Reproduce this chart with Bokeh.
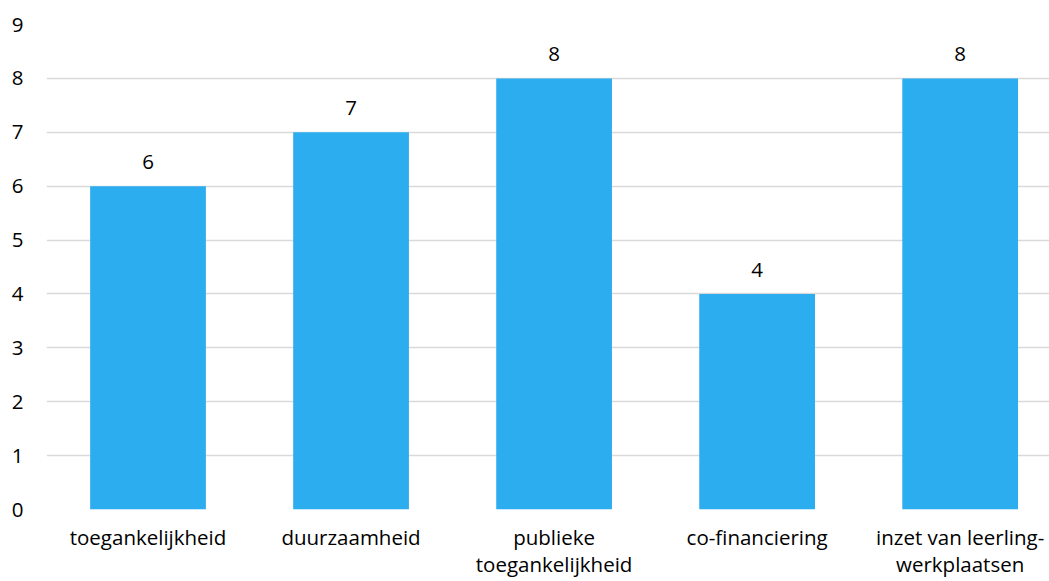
from bokeh.plotting import figure
from bokeh.models import ColumnDataSource, Range1d, FixedTicker, LabelSet
from bokeh.core.properties import value
from bokeh.embed import file_html
from bokeh.resources import INLINE

categories = ["toegankelijkheid", "duurzaamheid", "publieke\ntoegankelijkheid",
              "co-financiering", "inzet van leerling-\nwerkplaatsen"]
values = [6, 7, 8, 4, 8]
y_ticks = [0, 1, 2, 3, 4, 5, 6, 7, 8, 9]

xs = list(range(len(categories)))
src = ColumnDataSource(dict(x=xs, top=values, label=[str(v) for v in values]))

FONT = "Open Sans"
FS = "20.5px"
p = figure(width=1049, height=581, output_backend="svg", toolbar_location=None,
           x_range=Range1d(-0.5, 4.44), y_range=Range1d(0, 9),
           min_border_left=46, min_border_top=24, min_border_right=0, min_border_bottom=72)
p.outline_line_color = None
p.vbar(x="x", top="top", width=0.57, source=src, fill_color="#2BADEF", line_color=None)

labels = LabelSet(x="x", y="top", text="label", source=src, text_align="center",
                  text_baseline="alphabetic", y_offset=17, text_font=value(FONT),
                  text_font_size=value(FS), text_color="#000000")
p.add_layout(labels)

p.xaxis.ticker = FixedTicker(ticks=xs)
p.xaxis.major_label_overrides = {i: c for i, c in enumerate(categories)}
p.yaxis.ticker = FixedTicker(ticks=y_ticks)
for ax in (p.xaxis[0], p.yaxis[0]):
    ax.axis_line_color = None
    ax.major_tick_line_color = None
    ax.minor_tick_line_color = None
    ax.major_label_text_font = FONT
    ax.major_label_text_font_size = FS
    ax.major_label_text_color = "#000000"
p.xaxis.major_tick_out = 0
p.xaxis.major_tick_in = 0
p.xaxis.major_label_text_line_height = 0.97
p.xaxis.major_label_standoff = 13
p.yaxis.major_label_standoff = 17
p.xgrid.grid_line_color = None
p.ygrid.ticker = FixedTicker(ticks=y_ticks)
p.ygrid.grid_line_color = "#D9D9D9"
p.ygrid.grid_line_width = 1.5

open("out.html", "w").write(file_html(p, INLINE))
